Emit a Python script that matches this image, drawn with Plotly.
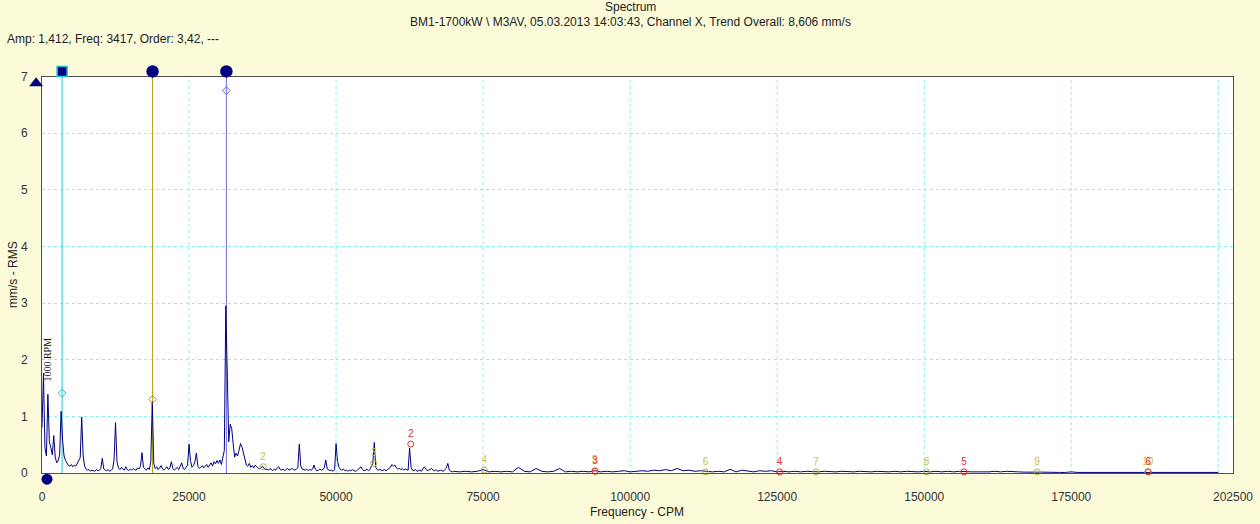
import numpy as np
import plotly.graph_objects as go

# ---------------------------------------------------------------------------
# Spectrum amplitudes (mm/s RMS) per frequency bin
# ---------------------------------------------------------------------------
LOW_START, LOW_STEP = 0, 250          # CPM, fine band
low_amp = [
    0.80, 1.76, 0.45, 0.30, 1.39, 0.55, 0.45, 0.32,
    0.66, 0.28, 0.18, 0.22, 0.32, 1.09, 0.58, 0.30,
    0.22, 0.16, 0.13, 0.12, 0.15, 0.11, 0.14, 0.12,
    0.17, 0.22, 0.27, 0.99, 0.30, 0.12, 0.07, 0.05,
    0.06, 0.03, 0.05, 0.04, 0.03, 0.06, 0.04, 0.05,
    0.08, 0.26, 0.07, 0.05, 0.04, 0.06, 0.03, 0.05,
    0.07, 0.23, 0.89, 0.20, 0.09, 0.06, 0.10, 0.07,
    0.05, 0.11, 0.06, 0.04, 0.07, 0.05, 0.08, 0.06,
    0.05, 0.09, 0.07, 0.12, 0.36, 0.10, 0.07, 0.05,
    0.09, 0.06, 0.20, 1.26, 0.17, 0.08, 0.11, 0.06,
    0.09, 0.13, 0.07, 0.05, 0.08, 0.11, 0.06, 0.09,
    0.20, 0.08, 0.05, 0.07, 0.10, 0.06, 0.13, 0.18,
    0.08, 0.06, 0.10, 0.14, 0.51, 0.22, 0.10, 0.13,
    0.20, 0.35, 0.12, 0.08, 0.10, 0.13, 0.09, 0.12,
    0.15, 0.10, 0.13, 0.18, 0.12, 0.20, 0.16, 0.22,
    0.17, 0.23, 0.15, 0.28, 0.40, 2.95, 1.38, 0.55,
    0.86, 0.79, 0.52, 0.28, 0.35, 0.30, 0.40, 0.52,
    0.46, 0.35, 0.20, 0.14, 0.12, 0.17, 0.10, 0.13,
    0.09, 0.14, 0.11, 0.08, 0.07, 0.10, 0.12, 0.08,
    0.06, 0.07, 0.05, 0.08, 0.06, 0.04, 0.07, 0.05,
    0.09, 0.11, 0.06, 0.05, 0.07, 0.04, 0.06, 0.08,
    0.05, 0.06, 0.08, 0.06, 0.05, 0.07, 0.09, 0.51,
    0.12, 0.07, 0.06, 0.05, 0.07, 0.04, 0.06, 0.05,
    0.07, 0.14, 0.06, 0.04, 0.05, 0.07, 0.05, 0.06,
    0.09, 0.23, 0.07, 0.05, 0.04, 0.05, 0.03, 0.06,
    0.52, 0.20, 0.10, 0.06, 0.05, 0.07, 0.04, 0.05,
    0.03, 0.05, 0.04, 0.06, 0.05, 0.03, 0.04, 0.06,
    0.08, 0.11, 0.06, 0.04, 0.05, 0.07, 0.04, 0.06,
    0.12, 0.17, 0.54, 0.10, 0.06, 0.05, 0.07, 0.04,
    0.05, 0.06, 0.04, 0.07, 0.08, 0.10, 0.15, 0.12,
    0.14, 0.09, 0.07, 0.08, 0.06, 0.08, 0.05, 0.07,
    0.06, 0.05, 0.44, 0.10, 0.05, 0.04, 0.06, 0.03,
    0.04, 0.05, 0.03, 0.06, 0.11, 0.07, 0.04, 0.05,
    0.06, 0.08, 0.05, 0.04, 0.06, 0.03, 0.04, 0.05,
    0.04, 0.03, 0.06, 0.09, 0.17, 0.05, 0.03, 0.02,
]

HIGH_START, HIGH_STEP = 70000, 1000   # CPM, coarse band
high_amp = [
    0.03, 0.02, 0.03, 0.02, 0.03, 0.06, 0.02, 0.03, 0.02, 0.03,
    0.02, 0.10, 0.03, 0.02, 0.08, 0.03, 0.02, 0.03, 0.08, 0.02,
    0.03, 0.02, 0.03, 0.02, 0.04, 0.02, 0.03, 0.02, 0.03, 0.04,
    0.02, 0.03, 0.04, 0.03, 0.05, 0.04, 0.06, 0.04, 0.08, 0.04,
    0.05, 0.03, 0.04, 0.03, 0.02, 0.03, 0.02, 0.065, 0.02, 0.05,
    0.03, 0.02, 0.04, 0.03, 0.04, 0.02, 0.03, 0.02, 0.03, 0.02,
    0.03, 0.02, 0.02, 0.03, 0.02, 0.02, 0.03, 0.02, 0.02, 0.03,
    0.02, 0.02, 0.03, 0.02, 0.02, 0.03, 0.02, 0.03, 0.02, 0.02,
    0.03, 0.02, 0.03, 0.02, 0.03, 0.02, 0.03, 0.02, 0.02, 0.02,
    0.015, 0.02, 0.03, 0.02, 0.03, 0.02, 0.02, 0.015, 0.02, 0.015,
    0.015, 0.01, 0.015, 0.01, 0.01, 0.02, 0.01, 0.01, 0.015, 0.01,
    0.01, 0.015, 0.01, 0.01, 0.015, 0.01, 0.01, 0.01, 0.015, 0.01,
    0.01, 0.01, 0.015, 0.01, 0.01, 0.01, 0.015, 0.01, 0.01, 0.01,
    0.01,
]

# ---------------------------------------------------------------------------
# Cursors (frequency, amplitude readout)
# ---------------------------------------------------------------------------
cursor_freq = [3417, 18800, 31350]
cursor_amp = [1.412, 1.30, 6.75]
cursor_colors = ["#22C4D0", "#B4A400", "#6C6CE6"]
cursor_handle_symbol = ["square", "circle", "circle"]
CURSOR_HANDLE_LEVEL = 7.09

# axis handles (frequency / amplitude of the scale markers)
amp_handle = (-1000, 6.88)
freq_handle = (850, -0.11)

# Harmonic families
olive_fundamental = 18800
olive_orders = [2, 3, 4, 5, 6, 7, 8, 9, 10]
olive_amp = [0.11, 0.17, 0.05, 0.04, 0.02, 0.02, 0.02, 0.02, 0.02]

red_fundamental = 31350
red_orders = [2, 3, 4, 5, 6]
red_amp = [0.51, 0.03, 0.02, 0.02, 0.02]

# Axes
x_tick_vals = [0, 25000, 50000, 75000, 100000, 125000, 150000, 175000, 202500]
x_grid_vals = [25000, 50000, 75000, 100000, 125000, 150000, 175000, 200000]
y_tick_vals = [0, 1, 2, 3, 4, 5, 6, 7]
X_MAX, Y_MAX = 202500, 7

# Page geometry (pixels)
W, H = 1260, 524
PLOT_L, PLOT_R, PLOT_T, PLOT_B = 42, 1233, 76.5, 473

NAVY = "#000080"
GRID = "#8EEFF2"
TEXT = "#222222"
FONT = "Liberation Sans, Arial, sans-serif"


def px(xp):
    return xp / W


def py(yp):
    return 1 - yp / H


freq = np.concatenate([
    LOW_START + LOW_STEP * np.arange(len(low_amp)),
    HIGH_START + HIGH_STEP * np.arange(len(high_amp)),
])
amp = np.array(low_amp + high_amp)

# a full-page companion axis pair with the same scale as the main axes,
# used for handles that sit just outside the plotting area
x_per_px = X_MAX / (PLOT_R - PLOT_L)
y_per_px = Y_MAX / (PLOT_B - PLOT_T)
x2_range = [-PLOT_L * x_per_px, (W - PLOT_L) * x_per_px]
y2_range = [-(H - PLOT_B) * y_per_px, Y_MAX + PLOT_T * y_per_px]

fig = go.Figure()

# cursor lines
for f, c in zip(cursor_freq, cursor_colors):
    fig.add_trace(go.Scatter(
        x=[f, f], y=[0, CURSOR_HANDLE_LEVEL], mode="lines",
        line=dict(color=c, width=1), hoverinfo="skip", showlegend=False))

# spectrum
fig.add_trace(go.Scatter(
    x=freq, y=amp, mode="lines", line=dict(color=NAVY, width=1),
    showlegend=False, name="Spectrum"))

# cursor readout diamonds
fig.add_trace(go.Scatter(
    x=cursor_freq, y=cursor_amp, mode="markers",
    marker=dict(symbol="diamond-open", size=6, color=cursor_colors, line=dict(width=1)),
    showlegend=False, cliponaxis=False))

# harmonic markers
fig.add_trace(go.Scatter(
    x=[olive_fundamental * n for n in olive_orders], y=olive_amp,
    mode="markers+text", text=[str(n) for n in olive_orders],
    textposition="top center",
    textfont=dict(family=FONT, size=10, color="#C8C04C"),
    marker=dict(symbol="circle-open", size=6, color="#B8AE3A", line=dict(width=1)),
    showlegend=False, cliponaxis=False))
fig.add_trace(go.Scatter(
    x=[red_fundamental * n for n in red_orders], y=red_amp,
    mode="markers+text", text=[str(n) for n in red_orders],
    textposition="top center",
    textfont=dict(family=FONT, size=10, color="#E22A2A"),
    marker=dict(symbol="circle-open", size=6, color="#E22A2A", line=dict(width=1)),
    showlegend=False, cliponaxis=False))

# cursor handles above the plot
for f, c, s in zip(cursor_freq, cursor_colors, cursor_handle_symbol):
    fig.add_trace(go.Scatter(
        x=[f], y=[CURSOR_HANDLE_LEVEL], mode="markers", xaxis="x2", yaxis="y2",
        marker=dict(symbol=s, size=10 if s == "square" else 11, color=NAVY,
                    line=dict(color=c if s == "square" else NAVY, width=1.5)),
        showlegend=False, cliponaxis=False, hoverinfo="skip"))

# axis handles
fig.add_trace(go.Scatter(
    x=[amp_handle[0]], y=[amp_handle[1]], mode="markers", xaxis="x2", yaxis="y2",
    marker=dict(symbol="triangle-up", size=12, color=NAVY),
    showlegend=False, cliponaxis=False, hoverinfo="skip"))
fig.add_trace(go.Scatter(
    x=[freq_handle[0]], y=[freq_handle[1]], mode="markers", xaxis="x2", yaxis="y2",
    marker=dict(symbol="circle", size=11, color=NAVY),
    showlegend=False, cliponaxis=False, hoverinfo="skip"))

shapes = [
    dict(type="rect", xref="x domain", yref="y domain", x0=0, x1=1, y0=0, y1=1,
         fillcolor="#FFFFFF", line=dict(width=0), layer="below"),
] + [
    dict(type="line", xref="x", yref="y", x0=gx, x1=gx, y0=0, y1=Y_MAX,
         line=dict(color=GRID, width=1, dash="3px,3px"), layer="below")
    for gx in x_grid_vals
]

annotations = [
    dict(text="Spectrum", x=px(630), y=py(6.5)),
    dict(text="BM1-1700kW \\ M3AV, 05.03.2013 14:03:43, Channel X, Trend Overall: 8,606 mm/s",
         x=px(630), y=py(22)),
    dict(text="Amp: 1,412, Freq: 3417, Order: 3,42, ---", x=px(5), y=py(39.5),
         xanchor="left"),
    dict(text="mm/s - RMS", x=px(13), y=py(275), textangle=-90),
    dict(text="Frequency - CPM", x=px(637), y=py(512)),
]
for a in annotations:
    a.update(xref="paper", yref="paper", showarrow=False,
             yanchor="middle", font=dict(family=FONT, size=12, color=TEXT))
    a.setdefault("xanchor", "center")
annotations.append(
    dict(text="1000 RPM", x=1000, y=2.0, xref="x", yref="y", textangle=-90,
         showarrow=False, xanchor="center", yanchor="middle",
         font=dict(family="Liberation Serif, Times New Roman, serif", size=10, color="#111")))

fig.update_layout(
    width=W, height=H,
    margin=dict(l=0, r=0, t=0, b=0, pad=0, autoexpand=False),
    paper_bgcolor="#FBFBDA", plot_bgcolor="rgba(0,0,0,0)",
    shapes=shapes, annotations=annotations,
    showlegend=False,
    xaxis=dict(domain=[px(PLOT_L), px(PLOT_R)], range=[0, X_MAX],
               tickvals=x_tick_vals, ticktext=[str(v) for v in x_tick_vals],
               showgrid=False, zeroline=False, showline=True, mirror=True,
               linecolor="#505050", linewidth=1, ticks="", automargin=False,
               ticklabelstandoff=13,
               tickfont=dict(family=FONT, size=12, color="#333")),
    yaxis=dict(domain=[py(PLOT_B), py(PLOT_T)], range=[0, Y_MAX],
               tickvals=y_tick_vals,
               showgrid=True, gridcolor=GRID, griddash="3px,3px", gridwidth=1,
               zeroline=False, showline=True, mirror=True,
               linecolor="#505050", linewidth=1, ticks="", automargin=False,
               ticklabelstandoff=11,
               tickfont=dict(family=FONT, size=12, color="#333")),
    xaxis2=dict(domain=[0, 1], range=x2_range, anchor="y2", visible=False,
                automargin=False),
    yaxis2=dict(domain=[0, 1], range=y2_range, anchor="x2", visible=False,
                automargin=False),
)

fig.write_html("out.html")
